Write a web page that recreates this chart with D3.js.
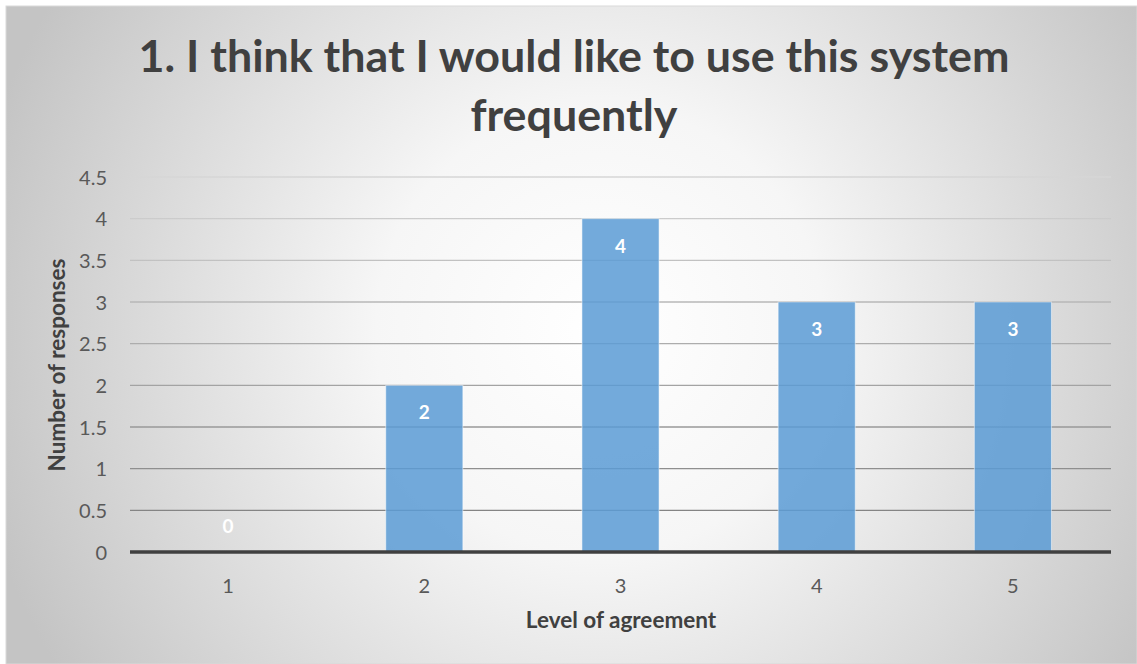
<!DOCTYPE html>
<html>
<head>
<meta charset="utf-8">
<script src="https://cdn.jsdelivr.net/npm/d3@7"></script>
<style>
  html, body { margin: 0; padding: 0; background: #ffffff; }
  svg { display: block; font-family: Lato, "Open Sans", sans-serif; }
</style>
</head>
<body>
<svg id="chart" width="1137" height="664"></svg>
<script>
// Survey responses for statement 1
const titleLines = ["1. I think that I would like to use this system", "frequently"];
const categories = ["1", "2", "3", "4", "5"];
const responses = [0, 2, 4, 3, 3];
const yTicks = [0, 0.5, 1, 1.5, 2, 2.5, 3, 3.5, 4, 4.5];
const xTitle = "Level of agreement";
const yTitle = "Number of responses";

const W = 1137, H = 664;
const margin = { left: 130, right: 26, top: 177, bottom: 112 };
const svg = d3.select("#chart");
const defs = svg.append("defs");

// Chart-area background: soft radial gradient from white centre to grey edges
const bg = defs.append("radialGradient").attr("id", "bgGrad")
  .attr("gradientUnits", "userSpaceOnUse")
  .attr("cx", 600).attr("cy", 330).attr("r", 640);
bg.append("stop").attr("offset", "0%").attr("stop-color", "#ffffff");
bg.append("stop").attr("offset", "35%").attr("stop-color", "#f6f6f6");
bg.append("stop").attr("offset", "100%").attr("stop-color", "#c4c4c4");

// Gridlines fade from light at the top to darker near the baseline
const gg = defs.append("linearGradient").attr("id", "gridGrad")
  .attr("gradientUnits", "userSpaceOnUse")
  .attr("x1", 0).attr("y1", margin.top).attr("x2", 0).attr("y2", H - margin.bottom);
gg.append("stop").attr("offset", "0%").attr("stop-color", "#d6d6d6");
gg.append("stop").attr("offset", "100%").attr("stop-color", "#7a7a7a");

svg.append("rect").attr("x", 6).attr("y", 6).attr("width", W - 6).attr("height", H - 6)
  .attr("fill", "url(#bgGrad)").attr("stroke", "#d9d9d9").attr("stroke-width", 1);

const x = d3.scaleBand().domain(categories)
  .range([margin.left, W - margin.right]).paddingInner(0.607).paddingOuter(0.3035);
const y = d3.scaleLinear().domain([0, 4.5]).range([H - margin.bottom, margin.top]);

// Horizontal gridlines
svg.append("g").selectAll("line").data(yTicks.filter(d => d > 0)).join("line")
  .attr("x1", margin.left).attr("x2", W - margin.right)
  .attr("y1", d => y(d)).attr("y2", d => y(d))
  .attr("stroke", "url(#gridGrad)").attr("stroke-width", 1.3);

// Y axis tick labels
const yAxis = d3.axisLeft(y).tickValues(yTicks).tickSize(0).tickPadding(0)
  .tickFormat(d => String(d));
const yg = svg.append("g").attr("transform", `translate(${margin.left - 23},0)`).call(yAxis);
yg.select(".domain").remove();
yg.selectAll("text").attr("font-size", 20).attr("fill", "#595959")
  .attr("font-family", "Lato, sans-serif").attr("dy", "0.35em");

// Bars
svg.append("g").selectAll("rect").data(responses).join("rect")
  .attr("x", (d, i) => x(categories[i]))
  .attr("width", x.bandwidth())
  .attr("y", d => y(d))
  .attr("height", d => y(0) - y(d))
  .attr("fill", "#5b9bd5").attr("fill-opacity", 0.85)
  .attr("stroke", "#ffffff").attr("stroke-opacity", 0.5).attr("stroke-width", 1);

// Baseline
svg.append("line")
  .attr("x1", margin.left).attr("x2", W - margin.right)
  .attr("y1", y(0)).attr("y2", y(0))
  .attr("stroke", "#404040").attr("stroke-width", 3.5);

// Value labels inside the bars (a zero bar gets its label just above the baseline)
svg.append("g").selectAll("text").data(responses).join("text")
  .attr("x", (d, i) => x(categories[i]) + x.bandwidth() / 2)
  .attr("y", d => d > 0 ? y(d) + 34 : y(0) - 19)
  .attr("text-anchor", "middle")
  .attr("font-size", 19).attr("font-weight", 700).attr("fill", "#ffffff")
  .text(d => d);

// X axis tick labels
const xAxis = d3.axisBottom(x).tickSize(0).tickPadding(0);
const xg = svg.append("g").attr("transform", `translate(0,${y(0) + 34})`).call(xAxis);
xg.select(".domain").remove();
xg.selectAll("text").attr("font-size", 20).attr("fill", "#595959")
  .attr("font-family", "Lato, sans-serif").attr("dy", "0.35em");

// Axis titles
svg.append("text").attr("x", 621).attr("y", 628).attr("text-anchor", "middle")
  .attr("font-size", 22.5).attr("font-weight", 700).attr("fill", "#404040").text(xTitle);
svg.append("text").attr("transform", "translate(65,365) rotate(-90)")
  .attr("text-anchor", "middle")
  .attr("font-size", 22.5).attr("font-weight", 700).attr("fill", "#404040").text(yTitle);

// Two-line title, sized so the first line spans its full width
const t1 = svg.append("text").attr("x", 574).attr("y", 72).attr("text-anchor", "middle")
  .attr("font-size", 44).attr("font-weight", 700).attr("fill", "#404040").text(titleLines[0]);
const len = t1.node().getComputedTextLength();
const fs = 44 * 871 / len;
t1.attr("font-size", fs);
svg.append("text").attr("x", 574).attr("y", 131).attr("text-anchor", "middle")
  .attr("font-size", fs).attr("font-weight", 700).attr("fill", "#404040").text(titleLines[1]);
</script>
</body>
</html>
